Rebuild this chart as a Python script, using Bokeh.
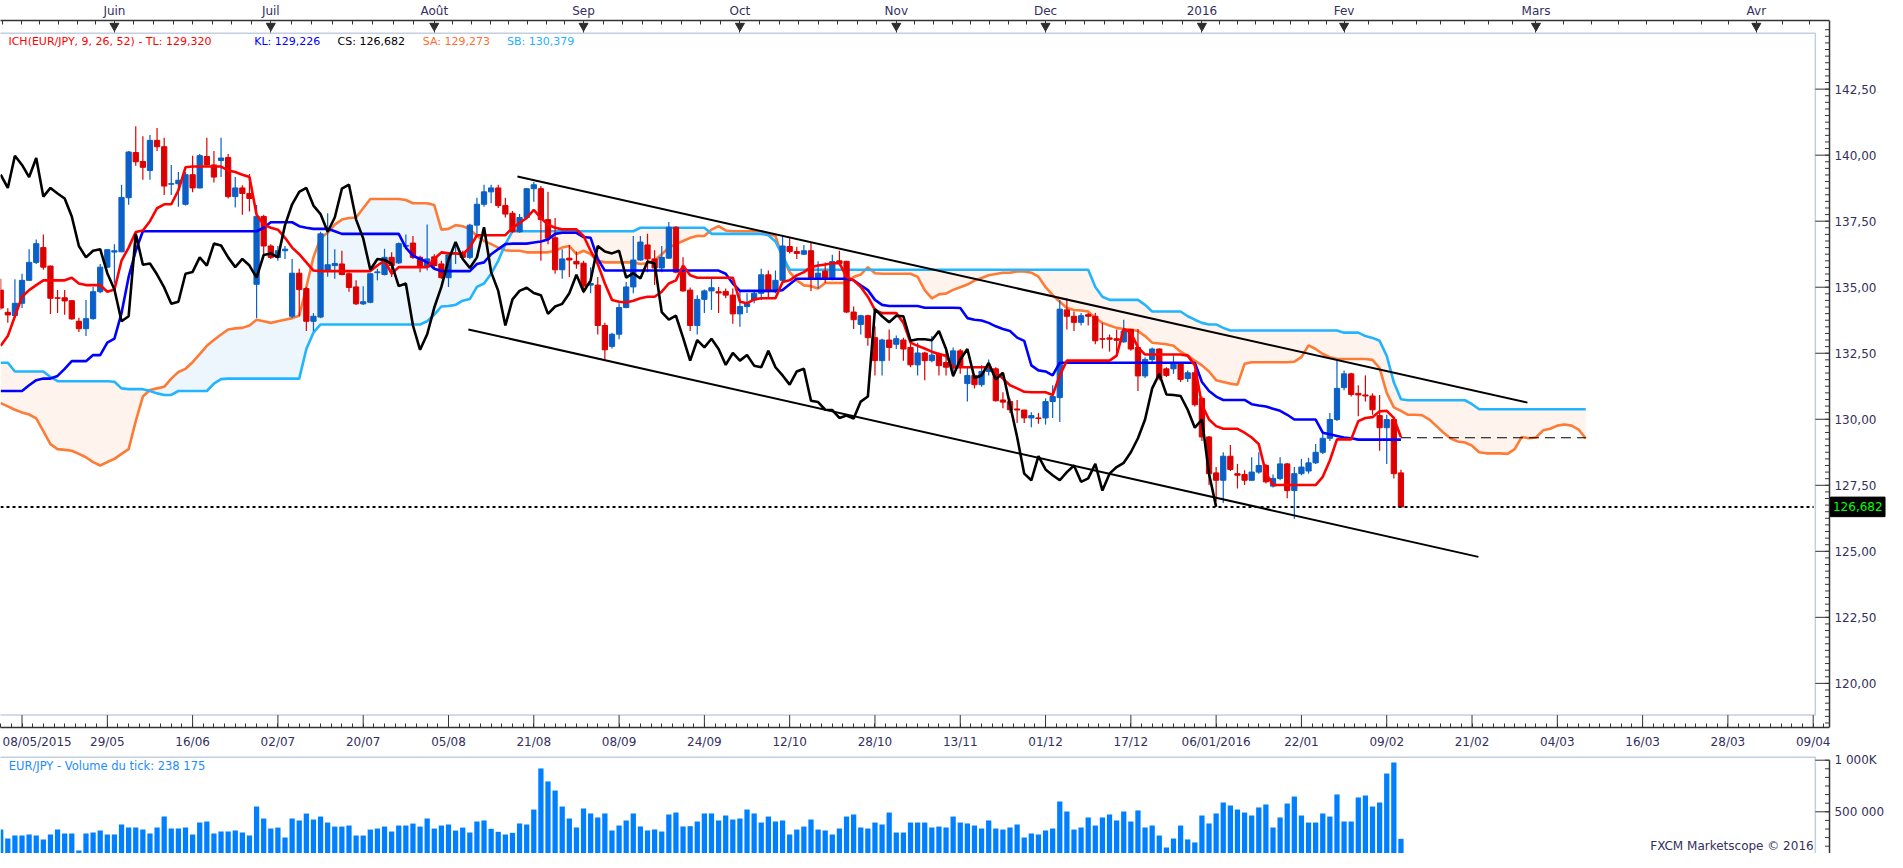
import numpy as np
from bokeh.plotting import figure
from bokeh.models import Range1d, LinearAxis, FixedTicker, Label, ColumnDataSource
from bokeh.layouts import column
from bokeh.embed import file_html
from bokeh.resources import INLINE
from bokeh.core.properties import value

# ---------------- DATA (bar index 0 = 08/05/2015, 197 = 11/02/2016) ----------------
open_ = [
    134.89, 134.05, 133.93, 134.39, 135.26, 135.94, 136.50, 135.80, 134.60, 134.60,
    134.49, 133.71, 133.43, 133.81, 134.83, 135.76, 136.33, 136.34, 138.39, 140.10,
    139.76, 139.42, 140.56, 140.32, 138.90, 138.92, 138.14, 139.26, 138.76, 139.95,
    139.63, 139.80, 139.91, 138.43, 138.76, 138.55, 135.11, 137.68, 136.56, 136.13,
    136.38, 133.90, 135.53, 134.95, 133.71, 133.87, 135.60, 135.82, 135.88, 135.51,
    135.01, 134.37, 134.43, 135.55, 135.48, 136.13, 135.92, 136.55, 136.67, 136.13,
    135.76, 136.15, 135.88, 135.36, 136.26, 136.32, 136.13, 137.35, 138.14, 138.61,
    138.76, 138.09, 137.80, 137.10, 137.64, 138.73, 138.73, 137.56, 136.87, 135.66,
    136.10, 135.98, 135.91, 135.08, 135.08, 133.55, 132.76, 133.22, 134.23, 135.01,
    136.03, 136.60, 136.07, 135.73, 136.10, 137.27, 135.57, 134.89, 133.55, 134.54,
    134.86, 134.83, 134.84, 134.70, 133.99, 134.27, 134.52, 134.77, 135.47, 134.83,
    135.26, 136.54, 136.35, 136.25, 136.38, 135.36, 135.61, 135.33, 136.00, 135.98,
    134.06, 133.59, 133.92, 133.09, 132.22, 133.00, 132.84, 133.00, 132.72, 132.06,
    132.51, 132.22, 132.47, 132.15, 131.94, 132.59, 131.35, 131.66, 131.31, 131.81,
    131.91, 130.73, 130.67, 130.39, 130.35, 130.05, 130.05, 130.05, 130.67, 130.82,
    134.14, 133.90, 133.67, 133.96, 133.90, 133.05, 133.08, 133.05, 132.93, 133.40,
    132.72, 131.64, 132.26, 132.66, 131.91, 131.91, 132.10, 131.54, 131.76, 130.79,
    129.33, 127.97, 127.69, 128.60, 127.94, 127.91, 127.69, 128.00, 128.25, 127.47,
    127.76, 128.31, 127.30, 127.94, 128.04, 128.35, 128.75, 129.28, 129.99, 131.20,
    131.72, 130.98, 130.92, 130.88, 130.14, 129.68, 129.99, 127.97]
high = [
    135.32, 134.20, 135.30, 135.51, 136.44, 136.81, 137.00, 135.82, 134.89, 134.89,
    134.52, 133.84, 134.52, 135.01, 135.88, 136.44, 136.63, 138.88, 140.16, 141.09,
    140.72, 140.76, 141.03, 140.66, 139.63, 139.36, 139.36, 139.98, 140.04, 140.66,
    140.16, 140.66, 140.04, 139.17, 138.86, 139.29, 138.11, 137.74, 136.63, 136.56,
    136.56, 136.07, 135.70, 135.01, 134.02, 137.10, 137.80, 136.44, 136.38, 135.57,
    135.26, 135.04, 135.53, 135.70, 136.46, 136.32, 136.69, 137.00, 136.94, 136.19,
    137.37, 136.25, 136.00, 136.28, 136.63, 136.38, 137.40, 138.39, 138.88, 138.88,
    138.88, 138.39, 137.89, 137.77, 138.76, 138.98, 138.83, 138.61, 137.62, 136.44,
    136.60, 136.35, 136.00, 135.76, 135.39, 133.65, 133.28, 134.39, 135.20, 136.94,
    136.94, 137.02, 136.40, 136.56, 137.47, 137.31, 136.13, 134.99, 134.70, 134.91,
    135.39, 135.01, 134.95, 134.95, 134.83, 134.77, 134.89, 135.70, 135.63, 135.63,
    136.94, 136.85, 136.53, 136.60, 136.69, 135.98, 135.94, 136.23, 136.38, 136.00,
    134.27, 133.96, 133.96, 133.52, 133.05, 133.40, 133.17, 133.09, 132.97, 132.90,
    132.56, 133.15, 132.53, 132.70, 132.72, 132.66, 131.97, 131.72, 132.04, 132.26,
    131.97, 131.02, 130.79, 130.73, 130.35, 130.27, 130.24, 130.79, 131.29, 134.52,
    134.58, 134.08, 134.02, 134.02, 134.02, 133.65, 133.21, 133.40, 133.77, 133.42,
    133.42, 132.35, 132.72, 132.68, 131.97, 132.43, 132.16, 131.85, 131.85, 130.86,
    129.37, 128.19, 128.75, 129.03, 128.31, 128.07, 128.56, 128.75, 128.31, 127.91,
    128.56, 128.34, 128.19, 128.50, 128.54, 129.06, 129.55, 130.24, 132.22, 131.85,
    131.76, 131.29, 131.66, 130.98, 130.92, 130.17, 130.05, 128.09]
low = [
    134.15, 133.65, 133.83, 134.21, 135.26, 135.88, 135.66, 133.99, 134.02, 133.96,
    133.77, 133.30, 133.15, 133.77, 134.77, 135.73, 135.14, 136.32, 138.12, 139.60,
    139.07, 139.07, 140.16, 138.49, 138.49, 138.05, 138.09, 138.60, 138.74, 139.60,
    138.96, 139.17, 138.36, 138.02, 137.74, 137.87, 133.83, 136.25, 136.07, 136.00,
    136.07, 133.83, 133.90, 133.34, 133.34, 133.83, 135.40, 135.32, 135.45, 134.83,
    134.33, 134.33, 134.39, 135.26, 135.45, 135.39, 135.88, 136.44, 136.07, 135.57,
    135.63, 135.70, 135.32, 135.01, 135.88, 136.07, 136.07, 136.94, 138.05, 138.18,
    138.00, 137.64, 137.06, 137.06, 137.59, 138.24, 136.00, 136.63, 135.51, 135.32,
    135.39, 135.70, 134.77, 134.77, 133.21, 132.28, 132.68, 133.03, 134.20, 134.77,
    136.00, 135.57, 135.08, 135.57, 136.07, 135.53, 134.83, 133.34, 133.21, 134.02,
    134.14, 134.02, 134.58, 133.62, 133.50, 134.02, 134.39, 134.52, 134.58, 134.77,
    135.14, 136.28, 136.07, 136.22, 134.86, 134.95, 135.16, 135.26, 135.82, 134.02,
    133.42, 133.21, 132.78, 131.66, 131.66, 132.22, 132.66, 132.22, 131.97, 131.66,
    131.48, 132.16, 131.66, 131.66, 131.60, 131.72, 130.67, 131.17, 131.23, 131.66,
    130.67, 130.42, 130.24, 129.86, 129.86, 129.70, 129.83, 129.80, 130.05, 129.90,
    133.40, 133.34, 133.55, 133.55, 132.84, 132.68, 132.56, 132.47, 132.90, 132.59,
    131.07, 131.56, 132.16, 131.48, 131.60, 131.72, 131.41, 131.41, 130.48, 129.18,
    127.51, 126.89, 126.83, 128.04, 127.38, 127.51, 127.67, 127.94, 127.57, 127.42,
    127.69, 127.01, 126.23, 127.88, 127.94, 128.31, 128.68, 129.18, 129.93, 131.10,
    130.86, 130.11, 130.67, 130.17, 128.81, 128.31, 127.76, 126.67]
close_ = [
    134.21, 133.95, 134.39, 135.26, 135.94, 136.65, 135.76, 134.58, 134.58, 134.48,
    133.80, 133.43, 133.81, 134.83, 135.76, 136.42, 136.38, 138.40, 140.12, 139.75,
    139.54, 140.56, 140.32, 138.83, 138.92, 139.05, 139.26, 138.76, 139.98, 139.63,
    139.17, 139.89, 138.43, 138.76, 138.55, 138.36, 137.68, 136.56, 136.13, 136.38,
    136.44, 135.53, 134.91, 133.71, 133.90, 137.02, 135.85, 135.90, 135.48, 134.99,
    134.37, 134.45, 135.51, 135.58, 136.13, 135.82, 136.65, 136.58, 136.13, 135.76,
    136.07, 135.82, 135.36, 136.22, 136.28, 136.13, 137.35, 138.14, 138.61, 138.76,
    138.09, 137.77, 137.10, 137.64, 138.73, 138.88, 137.56, 136.85, 135.66, 136.07,
    136.03, 135.88, 135.04, 135.14, 133.55, 132.63, 133.22, 134.23, 135.01, 136.03,
    136.71, 136.07, 135.73, 136.13, 137.27, 135.57, 134.86, 133.55, 134.54, 134.86,
    134.98, 134.78, 134.70, 133.99, 134.27, 134.37, 134.77, 135.47, 134.83, 135.26,
    136.56, 136.35, 136.28, 136.38, 135.36, 135.53, 135.33, 135.97, 135.90, 134.06,
    133.77, 133.92, 133.09, 132.22, 133.00, 132.72, 133.05, 132.66, 132.06, 132.51,
    132.22, 132.43, 132.03, 131.97, 132.59, 131.97, 131.66, 131.31, 131.81, 131.91,
    130.70, 130.65, 130.36, 130.35, 130.05, 130.14, 130.03, 130.67, 130.86, 134.17,
    133.90, 133.67, 133.92, 133.90, 132.97, 133.03, 133.03, 132.99, 133.34, 132.66,
    131.64, 132.26, 132.66, 131.56, 131.66, 132.13, 131.51, 131.76, 130.55, 129.33,
    127.94, 127.69, 128.60, 128.10, 127.88, 127.69, 128.00, 128.25, 127.63, 127.76,
    128.31, 127.30, 127.94, 128.19, 128.35, 128.75, 129.28, 129.99, 131.17, 131.72,
    130.94, 130.92, 130.88, 130.36, 129.68, 129.99, 127.94, 126.682]

# Ichimoku lines
tenkan = [
    132.78, 133.15, 133.90, 134.64, 134.89, 135.08, 135.26, 135.26, 135.26, 135.26,
    135.36, 135.14, 135.08, 135.08, 135.08, 134.83, 134.91, 136.01, 136.50, 137.09,
    137.15, 137.50, 137.99, 138.14, 138.14, 138.67, 139.54, 139.57, 139.57, 139.57,
    139.57, 139.57, 139.42, 139.36, 139.26, 139.17, 137.74, 137.37, 137.25, 137.18,
    136.87, 136.50, 136.25, 135.94, 135.63, 135.61, 135.61, 135.61, 135.61, 135.61,
    135.61, 135.61, 135.61, 135.82, 136.01, 135.51, 135.76, 135.76, 135.76, 135.76,
    135.76, 136.07, 136.32, 136.28, 136.28, 136.25, 136.50, 136.97, 136.97, 136.97,
    136.97, 136.97, 137.25, 137.43, 137.62, 137.93, 137.62, 137.37, 137.25, 137.19,
    137.19, 137.19, 136.94, 136.38, 135.88, 135.14, 134.52, 134.45, 134.42, 134.49,
    134.58, 134.64, 134.64, 134.83, 135.14, 135.26, 135.82, 135.45, 135.36, 135.36,
    135.36, 135.36, 135.36, 135.36, 134.45, 134.39, 134.54, 134.58, 134.58, 134.58,
    135.20, 135.26, 135.45, 135.57, 135.76, 135.82, 135.86, 135.91, 135.91, 135.39,
    135.26, 135.01, 134.64, 134.14, 134.02, 134.02, 134.02, 133.65, 132.90, 132.78,
    132.68, 132.56, 132.47, 132.40, 131.97, 131.97, 131.97, 131.97, 131.97, 131.97,
    131.79, 131.54, 131.29, 131.17, 131.04, 131.02, 131.02, 131.02, 130.92, 131.66,
    132.22, 132.22, 132.22, 132.22, 132.22, 132.22, 132.22, 132.41, 133.42, 133.28,
    132.72, 132.45, 132.45, 132.45, 132.45, 132.45, 132.45, 132.41, 132.04, 130.55,
    129.99, 129.74, 129.64, 129.64, 129.64, 129.49, 129.31, 129.06, 127.97, 127.51,
    127.51, 127.51, 127.51, 127.51, 127.51, 127.51, 127.82, 128.44, 129.24, 129.24,
    129.24, 129.93, 130.05, 130.08, 130.30, 130.32, 130.05, 129.32]
kijun = [
    131.07, 131.07, 131.07, 131.07, 131.29, 131.48, 131.54, 131.54, 131.64, 131.91,
    132.20, 132.20, 132.20, 132.43, 132.43, 132.90, 133.05, 134.02, 135.39, 136.38,
    137.12, 137.12, 137.12, 137.12, 137.12, 137.12, 137.12, 137.12, 137.12, 137.12,
    137.12, 137.12, 137.12, 137.12, 137.12, 137.12, 137.12, 137.25, 137.46, 137.46,
    137.46, 137.46, 137.31, 137.25, 137.21, 137.21, 137.21, 137.12, 137.02, 137.02,
    137.02, 137.02, 137.02, 137.02, 137.02, 137.02, 137.02, 136.50, 136.19, 136.07,
    135.94, 135.70, 135.61, 135.61, 135.61, 135.61, 135.61, 135.88, 135.94, 136.25,
    136.44, 136.63, 136.65, 136.65, 136.65, 136.69, 136.73, 136.81, 137.02, 137.06,
    137.06, 137.06, 136.90, 136.87, 136.07, 135.63, 135.63, 135.63, 135.63, 135.63,
    135.63, 135.63, 135.63, 135.63, 135.63, 135.63, 135.63, 135.63, 135.63, 135.63,
    135.63, 135.63, 135.51, 135.14, 134.86, 134.86, 134.86, 134.86, 134.86, 134.86,
    134.89, 135.11, 135.32, 135.32, 135.32, 135.32, 135.32, 135.32, 135.32, 135.32,
    135.26, 135.07, 134.89, 134.52, 134.33, 134.29, 134.29, 134.29, 134.29, 134.29,
    134.22, 134.22, 134.22, 134.22, 134.22, 134.21, 133.83, 133.77, 133.74, 133.65,
    133.52, 133.42, 133.34, 133.09, 132.97, 132.04, 131.85, 131.81, 131.66, 132.14,
    132.14, 132.14, 132.14, 132.14, 132.14, 132.14, 132.14, 132.14, 132.14, 132.14,
    132.14, 132.14, 132.14, 132.14, 132.14, 132.14, 132.14, 132.14, 132.14, 131.41,
    131.07, 130.86, 130.73, 130.73, 130.73, 130.73, 130.57, 130.52, 130.48, 130.40,
    130.32, 130.17, 129.99, 129.99, 129.99, 129.99, 129.49, 129.43, 129.37, 129.31,
    129.28, 129.23, 129.23, 129.23, 129.23, 129.23, 129.23, 129.23]
senkou_a = [
    130.61, 130.49, 130.36, 130.26, 130.18, 130.03, 129.55, 129.06, 128.87, 128.84,
    128.81, 128.69, 128.56, 128.38, 128.25, 128.38, 128.50, 128.69, 128.87, 129.93,
    130.86, 131.11, 131.17, 131.23, 131.54, 131.79, 131.91, 132.16, 132.47, 132.78,
    133.00, 133.21, 133.40, 133.44, 133.46, 133.55, 133.77, 133.71, 133.65, 133.71,
    133.77, 133.83, 133.92, 135.01, 136.13, 136.87, 137.06, 137.37, 137.56, 137.62,
    137.64, 137.99, 138.34, 138.34, 138.34, 138.34, 138.34, 138.30, 138.18, 138.18,
    138.18, 138.11, 137.18, 137.21, 137.35, 137.31, 137.20, 136.94, 136.75, 136.63,
    136.50, 136.40, 136.38, 136.38, 136.32, 136.32, 136.32, 136.32, 136.38, 136.50,
    136.56, 136.25, 136.38, 136.25, 136.00, 135.94, 135.94, 135.94, 135.94, 135.94,
    135.88, 135.91, 136.00, 136.25, 136.50, 136.63, 136.75, 136.87, 136.94, 136.94,
    137.18, 137.31, 137.15, 137.12, 137.12, 137.12, 137.12, 137.12, 137.02, 136.94,
    136.13, 135.57, 135.26, 135.07, 135.04, 134.95, 135.16, 135.16, 135.16, 135.16,
    135.39, 135.48, 135.76, 135.53, 135.51, 135.51, 135.51, 135.51, 135.51, 135.39,
    134.89, 134.58, 134.73, 134.76, 134.90, 135.00, 135.10, 135.25, 135.35, 135.45,
    135.50, 135.55, 135.55, 135.60, 135.60, 135.55, 135.40, 135.00, 134.70, 134.45,
    134.21, 134.14, 134.12, 134.08, 133.83, 133.65, 133.55, 133.46, 133.42, 133.40,
    133.34, 133.15, 132.90, 132.87, 132.84, 132.78, 132.56, 132.41, 132.22, 132.04,
    131.81, 131.48, 131.41, 131.35, 131.31, 132.10, 132.16, 132.16, 132.16, 132.16,
    132.16, 132.16, 132.18, 132.35, 132.80, 132.66, 132.47, 132.35, 132.28, 132.28,
    132.28, 132.28, 132.28, 132.25, 131.94, 131.00, 130.45, 130.32, 130.17, 130.17,
    130.15, 129.99, 129.74, 129.49, 129.27, 129.16, 129.12, 129.00, 128.75, 128.71,
    128.71, 128.71, 128.69, 128.87, 129.33, 129.28, 129.31, 129.58, 129.64, 129.76,
    129.80, 129.76, 129.61, 129.27]
senkou_b = [
    132.14, 132.14, 131.81, 131.81, 131.81, 131.81, 131.81, 131.60, 131.44, 131.44,
    131.44, 131.44, 131.44, 131.44, 131.44, 131.44, 131.42, 131.17, 131.14, 131.14,
    131.14, 131.07, 130.98, 130.92, 130.92, 131.07, 131.07, 131.07, 131.07, 131.07,
    131.35, 131.52, 131.54, 131.54, 131.54, 131.54, 131.54, 131.54, 131.54, 131.54,
    131.54, 131.54, 131.54, 132.66, 133.28, 133.59, 133.59, 133.59, 133.59, 133.59,
    133.59, 133.59, 133.59, 133.59, 133.59, 133.59, 133.59, 133.59, 133.59, 133.59,
    133.71, 133.96, 134.27, 134.29, 134.33, 134.49, 134.55, 135.01, 135.14, 135.51,
    136.00, 136.63, 137.12, 137.12, 137.12, 137.12, 137.12, 137.12, 137.12, 137.12,
    137.12, 137.12, 137.12, 137.12, 137.12, 137.12, 137.12, 137.12, 137.12, 137.12,
    137.25, 137.25, 137.25, 137.25, 137.25, 137.25, 137.25, 137.25, 137.25, 137.25,
    137.02, 137.02, 137.02, 137.02, 137.02, 137.02, 137.02, 137.02, 136.97, 136.73,
    136.19, 135.66, 135.66, 135.66, 135.66, 135.66, 135.66, 135.66, 135.66, 135.66,
    135.66, 135.66, 135.66, 135.66, 135.66, 135.66, 135.66, 135.66, 135.66, 135.66,
    135.66, 135.66, 135.66, 135.66, 135.66, 135.66, 135.66, 135.66, 135.66, 135.66,
    135.66, 135.66, 135.66, 135.66, 135.66, 135.66, 135.66, 135.66, 135.66, 135.66,
    135.66, 135.66, 135.66, 135.66, 135.01, 134.64, 134.52, 134.52, 134.52, 134.52,
    134.52, 134.33, 134.08, 134.08, 134.08, 134.08, 134.08, 133.90, 133.77, 133.65,
    133.59, 133.59, 133.46, 133.36, 133.36, 133.36, 133.36, 133.36, 133.36, 133.36,
    133.36, 133.36, 133.36, 133.36, 133.36, 133.36, 133.36, 133.36, 133.36, 133.28,
    133.28, 133.28, 133.15, 133.08, 132.97, 132.40, 131.40, 130.76, 130.72, 130.72,
    130.72, 130.72, 130.72, 130.72, 130.72, 130.72, 130.72, 130.57, 130.38, 130.38,
    130.38, 130.38, 130.38, 130.38, 130.38, 130.38, 130.38, 130.38, 130.38, 130.38,
    130.38, 130.38, 130.38, 130.38]
chikou_shift = 26

# Tick volume, thousands
volume_k = [
    328, 241, 270, 270, 280, 270, 231, 280, 328, 289,
    289, 125, 289, 299, 318, 280, 280, 377, 347, 347,
    328, 289, 347, 454, 338, 338, 347, 280, 396, 406,
    289, 309, 309, 318, 299, 270, 551, 435, 338, 347,
    251, 435, 416, 483, 425, 454, 396, 357, 357, 367,
    270, 270, 328, 338, 357, 309, 367, 367, 386, 357,
    435, 338, 367, 377, 318, 347, 299, 406, 416, 335,
    306, 280, 296, 387, 377, 522, 920, 794, 706, 551,
    435, 348, 532, 484, 445, 484, 319, 367, 416, 484,
    358, 319, 329, 309, 474, 493, 358, 361, 406, 484,
    484, 416, 464, 425, 435, 522, 484, 396, 454, 406,
    416, 280, 328, 357, 425, 328, 319, 280, 338, 454,
    474, 348, 338, 396, 377, 493, 299, 299, 396, 396,
    396, 348, 357, 348, 454, 396, 387, 367, 338, 416,
    338, 328, 348, 377, 251, 290, 280, 319, 338, 600,
    503, 328, 348, 445, 367, 445, 474, 416, 503, 406,
    513, 348, 367, 270, 154, 241, 367, 232, 203, 464,
    387, 484, 590, 561, 522, 493, 464, 542, 571, 348,
    445, 580, 648, 464, 396, 396, 484, 454, 668, 406,
    406, 639, 658, 551, 590, 871, 978, 238.175]

# Trend channel (bar index, price)
trend_upper_x = [72.7, 214.8]
trend_upper_y = [139.19, 130.63]
trend_lower_x = [65.8, 207.9]
trend_lower_y = [133.40, 124.79]
projection_level = 129.30

# Axis tick labels
date_ticks = [3, 15, 27, 39, 51, 63, 75, 87, 99, 111, 123, 135, 147, 159, 171, 183,
              195, 207, 219, 231, 243, 255]
date_labels = ["", "29/05", "16/06", "02/07", "20/07", "05/08", "21/08", "08/09", "24/09",
               "12/10", "28/10", "13/11", "01/12", "17/12", "06/01/2016", "22/01", "09/02",
               "21/02", "04/03", "16/03", "28/03", "09/04"]
first_date_label = "08/05/2015"
month_ticks = [16, 38, 61, 82, 104, 126, 147, 169, 189, 216, 247]
month_labels = ["Juin", "Juil", "Août", "Sep", "Oct", "Nov", "Dec", "2016", "Fev", "Mars", "Avr"]
month_bounds_outside = [-5, 277]
price_ticks = [120.0, 122.5, 125.0, 127.5, 130.0, 132.5, 135.0, 137.5, 140.0, 142.5]
price_labels = ["120,00", "122,50", "125,00", "127,50", "130,00", "132,50", "135,00",
                "137,50", "140,00", "142,50"]
vol_ticks = [500, 1000]
vol_labels = ["500 000", "1 000K"]

legend_parts = [("ICH(EUR/JPY, 9, 26, 52) -  TL: 129,320", "#FF0000", 8),
                ("KL: 129,226", "#0000FF", 256),
                ("CS: 126,682", "#000000", 340),
                ("SA: 129,273", "#FF6E2E", 426),
                ("SB: 130,379", "#22B0FF", 511)]
last_price_text = "126,682"
volume_title = "EUR/JPY - Volume du tick: 238 175"
copyright_text = "FXCM Marketscope © 2016"

# ---------------- LAYOUT HELPERS (reference pixel geometry) ----------------
PX_PER_BAR, X0 = 7.17, 0.2
def kx(px):
    return (px - X0) / PX_PER_BAR
P_REF, Y_REF, PX_PER_UNIT = 140.0, 156.0, 26.87
def py(px):
    return P_REF + (Y_REF - px) / PX_PER_UNIT
VOL_ZERO_PX, VOL_PX_PER_K = 873.9, 51.6 / 500.0
def vy(px):
    return (VOL_ZERO_PX - px) / VOL_PX_PER_K

FONT = "DejaVu Sans"
AX_COLOR = "#333333"
LBL_COLOR = "#33305E"
BORDER_COLOR = "#C3CFDE"
FRAME_W = 1887
AXIS_X = kx(1845)
INNER_R = kx(1830.7)
MINOR_X = kx(1840.5)
LABEL_X = kx(1850)

n = len(close_)
idx = list(range(n))
bull = "#0A60C6"
bear = "#DD0000"
cols = [bull if c >= o else bear for o, c in zip(open_, close_)]
src = ColumnDataSource(dict(x=idx, o=open_, h=high, l=low, c=close_,
                            top=[max(o, c) for o, c in zip(open_, close_)],
                            bot=[min(o, c) for o, c in zip(open_, close_)],
                            col=cols))


def style_axis(ax, tick_in, minor_in, standoff):
    ax.axis_line_color = AX_COLOR
    ax.axis_line_width = 1.5
    ax.major_tick_line_color = AX_COLOR
    ax.minor_tick_line_color = AX_COLOR
    ax.major_tick_in = tick_in
    ax.major_tick_out = 0
    ax.minor_tick_in = minor_in
    ax.minor_tick_out = 0
    ax.major_label_standoff = standoff
    ax.major_label_text_font = FONT
    ax.major_label_text_font_size = "12px"
    ax.major_label_text_color = LBL_COLOR


# ---------------- MAIN PRICE FIGURE ----------------
y_lo, y_hi = py(738.3), py(19)
p = figure(frame_width=FRAME_W, frame_height=707, output_backend="svg", toolbar_location=None,
           title=None, x_range=Range1d(kx(0), kx(1903.5)), y_range=Range1d(y_lo, y_hi),
           x_axis_location="below", y_axis_location=None,
           min_border_left=0, min_border_right=0, min_border_top=19, min_border_bottom=25)
p.grid.visible = False
p.outline_line_color = None
p.background_fill_color = "white"
p.border_fill_color = "white"

# inner light frame
p.quad(left=kx(-6), right=INNER_R, top=py(32), bottom=py(725.7),
       fill_color=None, line_color=BORDER_COLOR, line_width=1.5)

# cloud
sa = np.array(senkou_a)
sb = np.array(senkou_b)
xs = np.arange(len(sa))
upper = np.maximum(sa, sb)
p.varea(x=xs, y1=sa, y2=upper, fill_color="#FFF3EE")
p.varea(x=xs, y1=sb, y2=upper, fill_color="#ECF6FC")
p.line(xs, sa, line_color="#FF7A35", line_width=2.6)
p.line(xs, sb, line_color="#22B4FF", line_width=2.6)

# candles
p.segment(x0="x", y0="l", x1="x", y1="h", line_color="col", line_width=1.2, source=src)
p.vbar(x="x", width=0.74, top="top", bottom="bot", fill_color="col", line_color="col",
       line_width=1, source=src)

# Tenkan / Kijun / Chikou
p.line(idx, kijun, line_color="#0000FF", line_width=2.6)
p.line(idx, tenkan, line_color="#FF0000", line_width=2.6)
p.line(idx[:n - chikou_shift], close_[chikou_shift:], line_color="#000000", line_width=2.6)

# trend channel
p.line(trend_upper_x, trend_upper_y, line_color="black", line_width=2)
p.line(trend_lower_x, trend_lower_y, line_color="black", line_width=2)

# current price dotted line and projection dashed line
p.line([kx(0), kx(1829)], [close_[-1], close_[-1]], line_color="black", line_width=2,
       line_dash="3 3")
p.line([n - 1, len(senkou_a) - 1], [projection_level, projection_level], line_color="black",
       line_width=1.2, line_dash="10 6")

# bottom date axis (tick lines drawn as segments so the first label can sit off-tick)
xa = p.xaxis[0]
label_ticks = [kx(37)] + date_ticks[1:]
xa.ticker = FixedTicker(ticks=label_ticks,
                        minor_ticks=[i * 1.5 for i in range(0, 172)])
xa.major_label_overrides = {t: l for t, l in zip(label_ticks, [first_date_label] + date_labels[1:])}
xa.bounds = (kx(0), AXIS_X)
style_axis(xa, 12, 4, 7)
xa.major_tick_line_color = None
p.segment(x0=date_ticks, y0=[y_lo] * len(date_ticks), x1=date_ticks,
          y1=[py(725.7)] * len(date_ticks), line_color=AX_COLOR, line_width=1)

# top month axis
bounds = [month_bounds_outside[0]] + month_ticks + [month_bounds_outside[1]]
month_minor = []
for a, b in zip(bounds[:-1], bounds[1:]):
    month_minor += [a + (b - a) * j / 8.0 for j in range(8)]
month_minor = [m for m in month_minor if 0 <= m <= 256]
ta = LinearAxis(ticker=FixedTicker(ticks=month_ticks, minor_ticks=month_minor))
ta.major_label_overrides = {t: l for t, l in zip(month_ticks, month_labels)}
ta.bounds = (kx(0), AXIS_X)
style_axis(ta, 12, 4, 3)
p.add_layout(ta, "above")
p.scatter(x=month_ticks, y=[py(24.5)] * len(month_ticks), marker="inverted_triangle",
          size=9, fill_color="#2A2A2A", line_color="#2A2A2A")

# right price axis drawn in the frame
p.segment(x0=[AXIS_X], y0=[y_lo], x1=[AXIS_X], y1=[y_hi], line_color=AX_COLOR, line_width=1.5)
p.segment(x0=[INNER_R] * len(price_ticks), y0=price_ticks, x1=[AXIS_X] * len(price_ticks),
          y1=price_ticks, line_color=AX_COLOR, line_width=1)
minor_prices = [118.5 + 0.25 * i for i in range(0, 106)]
p.segment(x0=[MINOR_X] * len(minor_prices), y0=minor_prices, x1=[AXIS_X] * len(minor_prices),
          y1=minor_prices, line_color=AX_COLOR, line_width=1)
p.text(x=[LABEL_X] * len(price_ticks), y=price_ticks, text=price_labels,
       text_font=value(FONT), text_font_size="12px", text_color=LBL_COLOR,
       text_baseline="middle", text_align="left")
# last price box
p.quad(left=[kx(1846)], right=[kx(1901)], top=[close_[-1] + 0.37], bottom=[close_[-1] - 0.37],
       fill_color="black", line_color="black")
p.text(x=[kx(1848.5)], y=[close_[-1]], text=[last_price_text], text_font=value(FONT),
       text_font_size="12px", text_color="#00FF00", text_baseline="middle", text_align="left")

# legend texts
for txt, colr, xpx in legend_parts:
    p.add_layout(Label(x=kx(xpx), y=py(40.7), text=txt, text_color=colr,
                       text_font=FONT, text_font_size="11px", text_baseline="middle"))

# ---------------- VOLUME FIGURE ----------------
VOL_H = 101
v_hi = vy(763)
v_lo = v_hi - VOL_H / VOL_PX_PER_K
v = figure(frame_width=FRAME_W, frame_height=VOL_H, output_backend="svg", toolbar_location=None,
           title=None, x_range=p.x_range, y_range=Range1d(v_lo, v_hi),
           x_axis_location=None, y_axis_location=None,
           min_border_left=0, min_border_right=0, min_border_top=0, min_border_bottom=0)
v.grid.visible = False
v.outline_line_color = None
v.background_fill_color = "white"
v.border_fill_color = "white"
v.quad(left=kx(-6), right=INNER_R, top=vy(767.7), bottom=-200,
       fill_color=None, line_color=BORDER_COLOR, line_width=1.5)
v.vbar(x=idx, width=0.74, top=volume_k, bottom=0, fill_color="#0080FF", line_color=None)
# right volume axis drawn in the frame
v.segment(x0=[AXIS_X], y0=[-200], x1=[AXIS_X], y1=[vol_ticks[-1]], line_color=AX_COLOR,
          line_width=1.5)
v.segment(x0=[INNER_R] * len(vol_ticks), y0=vol_ticks, x1=[AXIS_X] * len(vol_ticks),
          y1=vol_ticks, line_color=AX_COLOR, line_width=1)
minor_vol = [1000 * j / 12.0 for j in range(1, 13)]
v.segment(x0=[MINOR_X] * len(minor_vol), y0=minor_vol, x1=[AXIS_X] * len(minor_vol),
          y1=minor_vol, line_color=AX_COLOR, line_width=1)
v.text(x=[LABEL_X] * len(vol_ticks), y=vol_ticks, text=vol_labels, text_font=value(FONT),
       text_font_size="12px", text_color=LBL_COLOR, text_baseline="middle", text_align="left")
v.add_layout(Label(x=kx(8.3), y=vy(776), text=volume_title, text_color="#1E8CFF",
                   text_font=FONT, text_font_size="11.5px", text_baseline="middle"))
v.add_layout(Label(x=kx(1829), y=vy(856), text=copyright_text, text_color=LBL_COLOR,
                   text_font=FONT, text_font_size="12px", text_baseline="middle",
                   text_align="right"))

layout = column(p, v, spacing=0)
open("out.html", "w").write(file_html(layout, INLINE))
